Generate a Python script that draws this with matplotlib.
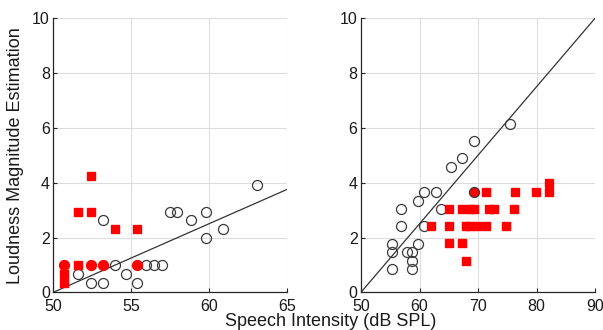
import matplotlib
matplotlib.use("Agg")
import matplotlib.pyplot as plt
import numpy as np

plt.rcParams['font.family'] = ['Liberation Sans', 'DejaVu Sans']

# ---- data (left panel) ----
left_open_x = [51.57, 52.41, 53.22, 53.22, 53.99, 54.70, 55.39, 55.97, 56.44, 57.0,
               57.47, 57.97, 58.82, 59.83, 59.83, 60.93, 63.10]
left_open_y = [0.67, 0.35, 0.35, 2.63, 1.0, 0.67, 0.35, 1.0, 1.0, 1.0,
               2.94, 2.94, 2.63, 2.94, 1.97, 2.30, 3.92]
left_sq_x = [52.41, 51.57, 52.41, 53.99, 55.39, 51.57, 50.69, 50.69]
left_sq_y = [4.24, 2.94, 2.94, 2.31, 2.31, 1.0, 0.67, 0.35]
left_rc_x = [50.69, 52.41, 53.22, 55.39]
left_rc_y = [1.0, 1.0, 1.0, 1.0]

# ---- data (right panel) ----
right_open_x = [55.25, 58.72, 58.72, 57.8, 58.72, 55.25, 55.25, 59.69, 56.84, 60.77,
                56.84, 59.69, 60.77, 62.82, 63.7, 65.38, 67.32, 69.26, 75.47]
right_open_y = [0.84, 0.84, 1.14, 1.46, 1.46, 1.46, 1.78, 1.78, 2.41, 2.41,
                3.03, 3.34, 3.66, 3.66, 3.03, 4.59, 4.90, 5.52, 6.14]
right_sq_x = [82.1,
              71.3, 76.3, 79.9, 82.1,
              65.1, 67.3, 68.6, 69.4, 71.9, 72.8, 76.1,
              61.9, 65.1, 67.9, 68.6, 69.9, 71.3, 74.8,
              65.1, 67.3,
              67.9]
right_sq_y = [3.99,
              3.66, 3.66, 3.66, 3.66,
              3.03, 3.03, 3.03, 3.03, 3.03, 3.03, 3.03,
              2.41, 2.41, 2.41, 2.41, 2.41, 2.41, 2.41,
              1.79, 1.79,
              1.16]
right_rc_x = [69.3]
right_rc_y = [3.66]

# reference line y = slope * (x - x0)
line_x0 = 50
line_slope = 0.25

left_xticks = [50, 55, 60, 65]
right_xticks = [50, 60, 70, 80, 90]
yticks = [0, 2, 4, 6, 8, 10]

fig = plt.figure(figsize=(6.03, 3.30), dpi=100)
W, H = 603, 330
axL = fig.add_axes([53.3 / W, (H - 292.3) / H, 233.4 / W, 274 / H])
axR = fig.add_axes([361 / W, (H - 292.3) / H, 234 / W, 274 / H])

spine_col = '#262626'
for ax, xt in ((axL, left_xticks), (axR, right_xticks)):
    ax.set_xlim(xt[0], xt[-1])
    ax.set_ylim(0, 10)
    ax.set_xticks(xt)
    ax.set_yticks(yticks)
    ax.grid(True, color='#dcdcdc', linewidth=0.8)
    ax.set_axisbelow(True)
    for s in ('top', 'right'):
        ax.spines[s].set_visible(False)
    for s in ('left', 'bottom'):
        ax.spines[s].set_color(spine_col)
        ax.spines[s].set_linewidth(0.9)
    ax.tick_params(direction='in', length=3, width=0.8, colors=spine_col,
                   labelsize=11.5, pad=2.5, labelcolor='#1a1a1a')
    ax.tick_params(axis='x', pad=4.5)
    lx = np.array(xt[0:1] + xt[-1:], dtype=float)
    ax.plot(lx, line_slope * (lx - line_x0), color='#333333', linewidth=0.9, zorder=2,
            clip_on=True)

ms_c = 7.2
ms_s = 5.6
# left
axL.plot(left_open_x, left_open_y, 'o', ms=ms_c, mfc='none', mec='#3a3a3a', mew=0.9, zorder=3)
axL.plot(left_sq_x, left_sq_y, 's', ms=ms_s, mfc='#ff0000', mec='#ff0000', zorder=4)
axL.plot(left_rc_x, left_rc_y, 'o', ms=ms_c, mfc='#ff0000', mec='#ff0000', mew=0.9, zorder=4)
# right
axR.plot(right_open_x, right_open_y, 'o', ms=ms_c, mfc='none', mec='#3a3a3a', mew=0.9, zorder=3)
axR.plot(right_sq_x, right_sq_y, 's', ms=ms_s, mfc='#ff0000', mec='#ff0000', zorder=4)
axR.plot(right_rc_x, right_rc_y, 'o', ms=ms_c, mfc='#ff0000', mec='#3a3a3a', mew=0.9, zorder=4)

axL.set_ylabel('Loudness Magnitude Estimation', fontsize=13, labelpad=6, color='#1a1a1a')
fig.text(331 / W, 1 - 321 / H, 'Speech Intensity (dB SPL)', ha='center', va='center',
         fontsize=13, color='#1a1a1a')

fig.savefig('out.png', dpi=100)
